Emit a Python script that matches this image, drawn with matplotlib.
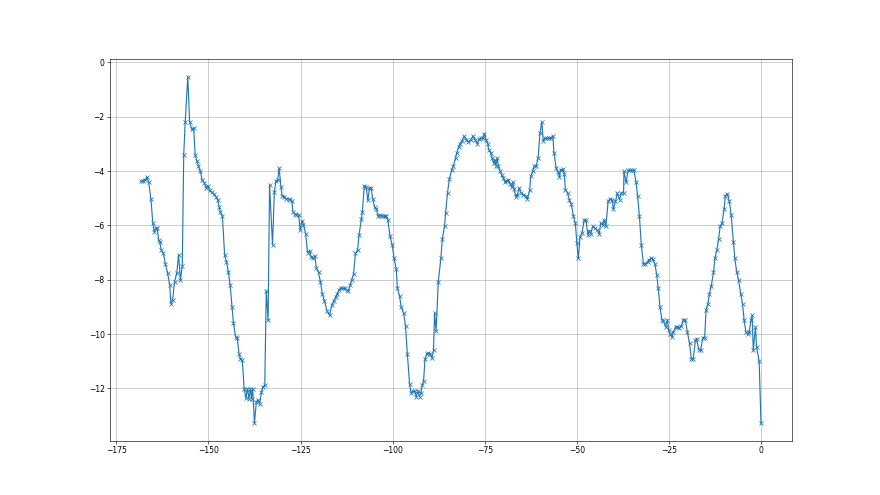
import matplotlib
matplotlib.use("Agg")
import matplotlib.pyplot as plt

# values
x_vals = [
    -168.3, -167.8, -167.1, -166.7, -166.2, -165.6, -165.1, -164.7, -164.3, -163.9,
    -163.5, -163.2, -162.8, -162.2, -161.7, -161.1, -160.5, -160.2, -159.7, -159.2,
    -158.6, -158.1, -157.6, -157.1, -156.7, -156.3, -155.6, -155.1, -154.5, -154.0,
    -153.6, -153.1, -152.7, -152.2, -151.7, -151.1, -150.6, -150.2, -149.7, -149.0,
    -148.6, -148.0, -147.5, -147.1, -146.8, -146.2, -145.6, -145.1, -144.6, -144.1,
    -143.6, -143.2, -142.6, -142.2, -141.7, -141.3, -140.8, -140.3, -139.8, -139.4,
    -139.0, -138.6, -138.3, -138.0, -137.5, -137.0, -136.6, -136.1, -135.6, -135.2,
    -134.7, -134.3, -133.8, -133.4, -132.6, -132.1, -131.7, -131.2, -130.8, -130.3,
    -130.0, -129.4, -128.9, -128.2, -127.8, -127.3, -127.1, -126.6, -126.2, -125.5,
    -125.1, -124.6, -124.2, -123.6, -123.1, -122.5, -122.1, -121.6, -121.1, -120.7,
    -120.1, -119.6, -119.1, -118.5, -117.8, -117.1, -116.5, -116.0, -115.5, -115.0,
    -114.5, -114.0, -113.5, -113.0, -112.4, -112.0, -111.5, -111.1, -110.6, -110.1,
    -109.5, -109.1, -108.5, -108.2, -107.7, -107.2, -106.7, -106.3, -105.8, -105.4,
    -104.9, -104.4, -104.0, -103.5, -103.1, -102.6, -102.2, -101.7, -101.3, -100.7,
    -100.1, -99.6, -99.0, -98.7, -98.1, -97.7, -97.0, -96.5, -96.0, -95.4,
    -95.0, -94.5, -94.0, -93.6, -93.1, -92.7, -92.3, -92.0, -91.6, -91.2,
    -90.7, -90.3, -89.8, -89.3, -88.9, -88.6, -88.2, -87.6, -86.9, -86.5,
    -85.9, -85.6, -85.1, -84.6, -84.0, -83.5, -82.9, -82.6, -82.1, -81.7,
    -81.1, -80.6, -80.0, -79.4, -78.8, -78.2, -77.6, -77.0, -76.5, -76.0,
    -75.5, -75.1, -74.6, -74.2, -73.9, -73.3, -73.0, -72.6, -72.3, -72.0,
    -71.6, -71.3, -70.8, -70.4, -69.9, -69.5, -69.0, -68.6, -68.1, -67.7,
    -67.4, -67.0, -66.6, -66.1, -65.7, -65.1, -64.5, -63.9, -63.4, -62.8,
    -62.5, -62.0, -61.6, -61.0, -60.5, -60.0, -59.5, -59.1, -58.7, -58.1,
    -57.6, -57.1, -56.5, -56.2, -55.6, -55.1, -54.7, -54.4, -53.8, -53.4,
    -53.1, -52.5, -52.0, -51.5, -50.9, -50.4, -50.0, -49.6, -49.1, -48.6,
    -48.0, -47.5, -47.0, -46.6, -46.2, -45.7, -45.0, -44.4, -43.9, -43.5,
    -42.9, -42.6, -42.1, -41.5, -41.0, -40.4, -40.1, -39.5, -39.0, -38.4,
    -37.9, -37.3, -37.2, -36.6, -36.1, -35.5, -35.0, -34.5, -33.9, -33.5,
    -33.0, -32.5, -31.9, -31.4, -30.8, -30.4, -29.8, -29.4, -28.8, -28.3,
    -27.9, -27.4, -26.9, -26.5, -25.9, -25.4, -25.1, -24.7, -24.2, -23.8,
    -23.2, -22.7, -22.2, -21.6, -21.1, -20.5, -20.0, -19.4, -18.9, -18.4,
    -17.8, -17.5, -16.9, -16.4, -15.8, -15.3, -14.9, -14.4, -14.0, -13.5,
    -12.9, -12.5, -12.0, -11.5, -11.1, -10.6, -10.0, -9.7, -9.1, -8.6,
    -8.1, -7.5, -7.1, -6.6, -6.1, -5.5, -5.0, -4.6, -4.1, -3.5,
    -3.2, -2.7, -2.4, -2.1, -1.5, -1.2, -0.5, 0.0,
]
y_vals = [
    -4.38, -4.35, -4.32, -4.22, -4.42, -5.03, -5.92, -6.23, -6.11, -6.11,
    -6.54, -6.60, -6.91, -7.03, -7.42, -7.74, -8.20, -8.88, -8.73, -8.07,
    -7.77, -7.09, -8.01, -7.50, -3.40, -2.20, -0.53, -2.20, -2.47, -2.41,
    -3.40, -3.64, -3.80, -4.01, -4.32, -4.44, -4.63, -4.54, -4.71, -4.79,
    -4.84, -4.94, -5.06, -5.31, -5.49, -5.67, -7.09, -7.34, -7.71, -8.20,
    -9.00, -9.61, -10.11, -10.13, -10.72, -10.91, -10.97, -12.01, -12.35, -12.01,
    -12.38, -12.01, -12.38, -12.01, -13.28, -12.51, -12.42, -12.57, -12.14, -11.93,
    -11.89, -8.41, -9.49, -4.51, -6.72, -4.79, -4.38, -4.32, -3.90, -4.59,
    -4.91, -4.94, -5.03, -5.03, -5.06, -5.12, -5.49, -5.58, -5.61, -5.61,
    -6.17, -5.83, -5.98, -6.31, -7.00, -6.93, -7.18, -7.21, -7.13, -7.58,
    -7.73, -8.07, -8.51, -8.78, -9.15, -9.31, -8.94, -8.78, -8.65, -8.51,
    -8.36, -8.30, -8.32, -8.32, -8.38, -8.41, -8.20, -8.01, -7.79, -7.03,
    -6.91, -6.35, -5.77, -5.49, -4.54, -4.59, -5.08, -4.63, -4.63, -5.03,
    -5.31, -5.40, -5.65, -5.61, -5.65, -5.65, -5.67, -5.67, -5.80, -6.39,
    -6.72, -7.21, -7.62, -8.32, -8.60, -9.00, -9.22, -9.71, -10.72, -11.83,
    -12.17, -12.10, -12.10, -12.30, -12.10, -12.30, -12.17, -11.89, -11.73, -10.91,
    -10.72, -10.70, -10.72, -10.88, -10.60, -9.22, -9.88, -8.07, -7.21, -6.50,
    -6.02, -5.53, -4.81, -4.30, -3.98, -3.80, -3.52, -3.34, -3.11, -2.99,
    -2.88, -2.72, -2.84, -2.93, -2.84, -2.72, -2.84, -2.99, -2.82, -2.80,
    -2.79, -2.62, -2.86, -2.99, -3.21, -3.34, -3.52, -3.70, -3.58, -3.80,
    -3.53, -3.83, -4.01, -4.14, -4.26, -4.42, -4.35, -4.32, -4.47, -4.59,
    -4.42, -4.67, -4.94, -4.87, -4.63, -4.81, -4.87, -4.91, -5.03, -4.71,
    -4.20, -4.01, -3.83, -3.80, -3.52, -2.60, -2.20, -2.90, -2.80, -2.80,
    -2.80, -2.80, -2.72, -3.34, -3.89, -4.04, -4.22, -3.95, -3.93, -4.10,
    -4.69, -4.81, -5.08, -5.22, -5.67, -5.92, -6.63, -7.21, -6.41, -6.29,
    -5.80, -5.82, -6.35, -6.19, -6.31, -6.04, -6.11, -6.17, -6.31, -5.92,
    -5.98, -5.80, -6.02, -5.12, -5.03, -5.06, -5.40, -5.12, -4.81, -5.06,
    -4.81, -4.81, -4.01, -4.42, -3.98, -3.98, -3.98, -3.98, -4.42, -4.91,
    -5.67, -6.72, -7.42, -7.42, -7.34, -7.27, -7.21, -7.25, -7.42, -7.83,
    -8.32, -9.02, -9.47, -9.51, -9.74, -9.49, -9.84, -9.98, -10.11, -9.92,
    -9.74, -9.74, -9.76, -9.71, -9.47, -9.49, -9.92, -10.33, -10.91, -10.91,
    -10.23, -10.17, -10.57, -10.60, -10.13, -10.13, -9.10, -8.90, -8.51, -8.23,
    -7.73, -7.21, -6.91, -6.51, -6.04, -5.92, -5.40, -4.91, -4.84, -5.12,
    -5.61, -6.60, -7.21, -7.71, -8.01, -8.51, -8.90, -9.47, -9.92, -10.01,
    -9.92, -9.49, -9.31, -10.60, -9.74, -10.48, -10.99, -13.28,
]

# 16x9 inches at 55 dpi gives 880x495 with default-looking proportions
fig, ax = plt.subplots(figsize=(16, 9), dpi=55)

ax.plot(x_vals, y_vals, marker='x', color='tab:blue')
ax.grid(True)

fig.savefig("out.png", dpi=55)
